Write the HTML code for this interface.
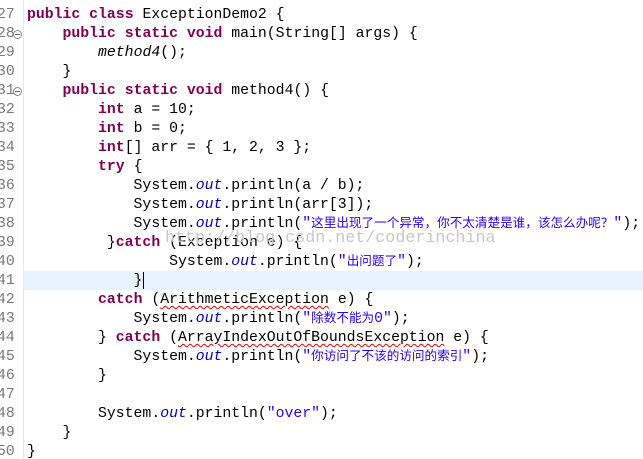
<!DOCTYPE html>
<html><head><meta charset="utf-8"><style>
html,body{margin:0;padding:0;background:#fff;width:643px;height:457px;overflow:hidden}
body{position:relative;top:2px}
.ln{position:absolute;left:0;width:23px;font:14.8px "Liberation Mono",monospace;color:#787878;white-space:pre;line-height:19px;text-indent:-3px}
.gut{position:absolute;left:23px;top:-2px;width:1px;height:460px;background:#e8e8e8}
.c{position:absolute;left:27px;font:14.8px "Liberation Mono",monospace;color:#000;white-space:pre;line-height:19px;height:19px}
.k{color:#7f0055;font-weight:bold}
.s{color:#2a00ff}
.f{color:#0000c0;font-style:italic}
.i{font-style:italic}
.z{font-family:"Noto Sans CJK SC","WenQuanYi Zen Hei",sans-serif;font-size:12.6px;line-height:1}
.sq{text-decoration:underline wavy #e00;text-decoration-thickness:1px;text-underline-offset:2px}
.hl{position:absolute;left:24px;top:269px;width:619px;height:19px;background:#e8f2fe}
.fold{position:absolute;left:13px;width:7px;height:7px;border:1px solid #8a8a8a;border-radius:50%;font-size:0}
.fold:after{content:"";position:absolute;left:1px;top:3px;width:5px;height:1px;background:#666}
.wm{position:absolute;left:165px;top:227px;font:16.7px "Liberation Mono",monospace;color:#c8c8c8;white-space:pre}
.cur{position:absolute;left:143px;top:270px;width:1px;height:17px;background:#000}
</style></head><body>
<div class="hl"></div>
<div class="gut"></div>
<div class="ln" style="top:4px">27</div>
<div class="ln" style="top:23px">28</div>
<div class="ln" style="top:42px">29</div>
<div class="ln" style="top:61px">30</div>
<div class="ln" style="top:80px">31</div>
<div class="ln" style="top:99px">32</div>
<div class="ln" style="top:118px">33</div>
<div class="ln" style="top:137px">34</div>
<div class="ln" style="top:156px">35</div>
<div class="ln" style="top:175px">36</div>
<div class="ln" style="top:194px">37</div>
<div class="ln" style="top:213px">38</div>
<div class="ln" style="top:232px">39</div>
<div class="ln" style="top:251px">40</div>
<div class="ln" style="top:270px">41</div>
<div class="ln" style="top:289px">42</div>
<div class="ln" style="top:308px">43</div>
<div class="ln" style="top:327px">44</div>
<div class="ln" style="top:346px">45</div>
<div class="ln" style="top:365px">46</div>
<div class="ln" style="top:384px">47</div>
<div class="ln" style="top:403px">48</div>
<div class="ln" style="top:422px">49</div>
<div class="ln" style="top:441px">50</div>
<div class="fold" style="top:28px"></div>
<div class="fold" style="top:85px"></div>

<div class="c" style="top:4px"><span class="k">public</span> <span class="k">class</span> ExceptionDemo2 {</div>
<div class="c" style="top:23px">    <span class="k">public</span> <span class="k">static</span> <span class="k">void</span> main(String[] args) {</div>
<div class="c" style="top:42px">        <span class="i">method4</span>();</div>
<div class="c" style="top:61px">    }</div>
<div class="c" style="top:80px">    <span class="k">public</span> <span class="k">static</span> <span class="k">void</span> method4() {</div>
<div class="c" style="top:99px">        <span class="k">int</span> a = 10;</div>
<div class="c" style="top:118px">        <span class="k">int</span> b = 0;</div>
<div class="c" style="top:137px">        <span class="k">int</span>[] arr = { 1, 2, 3 };</div>
<div class="c" style="top:156px">        <span class="k">try</span> {</div>
<div class="c" style="top:175px">            System.<span class="f">out</span>.println(a / b);</div>
<div class="c" style="top:194px">            System.<span class="f">out</span>.println(arr[3]);</div>
<div class="c" style="top:213px">            System.<span class="f">out</span>.println(<span class="s">"<span class="z">这里出现了一个异常，你不太清楚是谁，该怎么办呢？</span>"</span>);</div>
<div class="c" style="top:232px">         }<span class="k">catch</span> (Exception e) {</div>
<div class="c" style="top:251px">                System.<span class="f">out</span>.println(<span class="s">"<span class="z">出问题了</span>"</span>);</div>
<div class="c" style="top:270px">            }</div>
<div class="c" style="top:289px">        <span class="k">catch</span> (<span class="sq">ArithmeticException</span> e) {</div>
<div class="c" style="top:308px">            System.<span class="f">out</span>.println(<span class="s">"<span class="z">除数不能为</span>0"</span>);</div>
<div class="c" style="top:327px">        } <span class="k">catch</span> (<span class="sq">ArrayIndexOutOfBoundsException</span> e) {</div>
<div class="c" style="top:346px">            System.<span class="f">out</span>.println(<span class="s">"<span class="z">你访问了不该的访问的索引</span>"</span>);</div>
<div class="c" style="top:365px">        }</div>
<div class="c" style="top:403px">        System.<span class="f">out</span>.println(<span class="s">"over"</span>);</div>
<div class="c" style="top:422px">    }</div>
<div class="c" style="top:441px">}</div>
<div class="cur"></div>
<div class="wm">http://blog.csdn.net/coderinchina</div>
</body></html>
